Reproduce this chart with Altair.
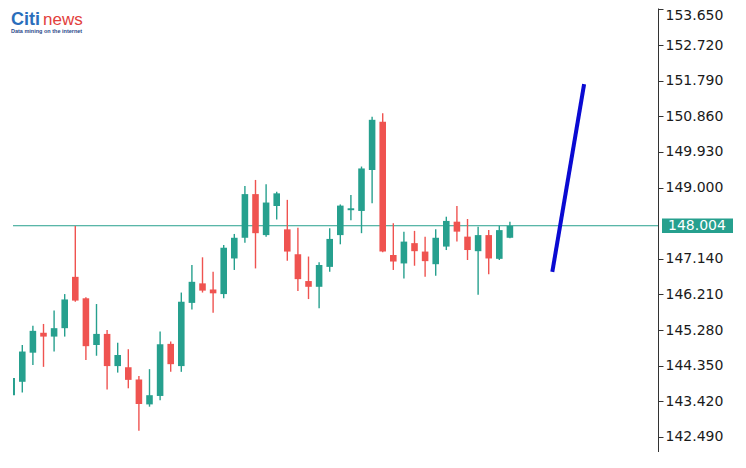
import altair as alt
import pandas as pd

# ---- data ----
idx = list(range(1, 49))
opens = [143.58, 143.93, 144.69, 145.21, 145.11, 145.33, 146.67, 146.11, 144.89, 145.18,
         144.34, 144.31, 143.99, 143.34, 143.56, 144.92, 144.34, 145.99, 146.50, 146.34,
         146.22, 147.15, 147.69, 148.83, 147.76, 148.52, 147.91, 147.26, 146.56, 146.41,
         146.93, 147.76, 148.41, 148.39, 149.46, 150.72, 147.24, 147.02, 147.55, 147.33,
         147.00, 147.46, 148.11, 147.72, 147.34, 147.76, 147.14, 147.69]
highs = [144.16, 144.89, 145.39, 145.44, 145.79, 146.22, 148.00, 146.14, 145.96, 145.28,
         144.95, 144.78, 144.08, 144.26, 145.24, 144.98, 146.26, 146.98, 147.18, 146.80,
         147.50, 147.79, 149.04, 149.20, 149.09, 148.89, 148.68, 147.95, 147.20, 147.05,
         147.94, 148.56, 148.81, 149.55, 150.85, 150.94, 148.07, 147.85, 147.87, 147.72,
         147.91, 148.24, 148.52, 148.18, 147.98, 147.89, 148.00, 148.11]
lows = [143.45, 143.65, 144.37, 144.32, 144.72, 145.11, 146.02, 144.50, 144.61, 143.73,
        144.17, 143.76, 142.65, 143.28, 143.45, 144.19, 144.19, 145.82, 146.26, 145.73,
        146.11, 146.85, 147.56, 146.89, 147.72, 148.17, 147.09, 146.30, 146.09, 145.85,
        146.80, 147.52, 148.15, 147.81, 148.59, 147.31, 146.85, 146.63, 146.96, 146.67,
        146.70, 147.37, 147.59, 147.11, 146.20, 146.74, 147.11, 147.68]
closes = [144.03, 144.72, 145.26, 145.11, 145.33, 146.08, 146.05, 144.86, 145.18, 144.34,
          144.63, 143.98, 143.35, 143.58, 144.91, 144.39, 146.02, 146.54, 146.31, 146.24,
          147.43, 147.69, 148.83, 147.81, 148.61, 148.85, 147.33, 146.61, 146.41, 146.98,
          147.66, 148.53, 148.46, 149.50, 150.77, 147.33, 147.07, 147.59, 147.34, 147.08,
          147.69, 148.13, 147.85, 147.37, 147.76, 147.15, 147.89, 148.00]

current_price = [148.004]
current_label = ["148.004"]
axis_ticks = [153.65, 152.72, 151.79, 150.86, 149.93, 149.00,
              147.14, 146.21, 145.28, 144.35, 143.42, 142.49]
proj_x = [52, 55]
proj_y = [146.80, 151.70]

UP = "#26a08e"
DOWN = "#ef5350"
BLUE = "#0a0ad2"

df = pd.DataFrame({"i": idx, "open": opens, "high": highs, "low": lows, "close": closes})
dfp = pd.DataFrame({"p": current_price, "label": current_label})
dfl = pd.DataFrame({"x": proj_x, "y": proj_y})

x_scale = alt.Scale(domain=[1.123, 61.97], zero=False, nice=False)
y_scale = alt.Scale(domain=[142.097, 153.689], zero=False, nice=False)

y_axis = alt.Axis(
    orient="right", values=axis_ticks, format=".3f", title=None, grid=False,
    labelFont="DejaVu Sans", labelFontSize=14, labelColor="#1a1a1a",
    labelPadding=2, tickSize=5, tickColor="#333333", domainColor="#333333",
    labelOffset={"condition": {"test": "datum.value > 153", "value": 6}, "value": 0},
)

color = alt.Color("dir:N", scale=alt.Scale(domain=["up", "down"], range=[UP, DOWN]), legend=None)

base = alt.Chart(df).transform_calculate(
    dir="datum.close >= datum.open ? 'up' : 'down'",
    x0="datum.i - 0.31",
    x1="datum.i + 0.31",
    b0="min(datum.open, datum.close)",
    b1="max(datum.open, datum.close)",
)

wicks = base.mark_rule(strokeWidth=1.4, clip=True).encode(
    x=alt.X("i:Q", scale=x_scale, axis=None),
    y=alt.Y("low:Q", scale=y_scale, axis=y_axis),
    y2="high:Q",
    color=color,
)

bodies = base.mark_rect(clip=True).encode(
    x=alt.X("x0:Q", scale=x_scale, axis=None),
    x2="x1:Q",
    y=alt.Y("b0:Q", scale=y_scale, axis=y_axis),
    y2="b1:Q",
    color=color,
)

hline = alt.Chart(dfp).mark_rule(color=UP, strokeWidth=1).encode(
    y=alt.Y("p:Q", scale=y_scale, axis=y_axis)
)

box = alt.Chart(dfp).transform_calculate(
    lo="datum.p - 0.187", hi="datum.p + 0.187"
).mark_rect(color=UP).encode(
    x=alt.value(649), x2=alt.value(720),
    y=alt.Y("lo:Q", scale=y_scale, axis=y_axis), y2="hi:Q",
)

box_text = alt.Chart(dfp).mark_text(
    align="left", baseline="middle", color="white", fontSize=14, font="DejaVu Sans"
).encode(
    x=alt.value(655),
    y=alt.Y("p:Q", scale=y_scale, axis=y_axis),
    text="label:N",
)

proj = alt.Chart(dfl).mark_line(color=BLUE, strokeWidth=4).encode(
    x=alt.X("x:Q", scale=x_scale, axis=None),
    y=alt.Y("y:Q", scale=y_scale, axis=y_axis),
)

logo_citi = alt.Chart(pd.DataFrame({"t": ["Citi"]})).mark_text(
    align="left", baseline="alphabetic", font="Liberation Sans", fontWeight="bold",
    fontSize=18, color="#2a6ebb"
).encode(x=alt.value(-2), y=alt.value(17), text="t:N")
logo_news = alt.Chart(pd.DataFrame({"t": ["news"]})).mark_text(
    align="left", baseline="alphabetic", font="Liberation Sans",
    fontSize=17, color="#e2403c"
).encode(x=alt.value(30), y=alt.value(16.5), text="t:N")
logo_sub = alt.Chart(pd.DataFrame({"t": ["Data mining on the internet"]})).mark_text(
    align="left", baseline="middle", font="Liberation Sans", fontWeight="bold",
    fontSize=5.5, color="#2a4a8a"
).encode(x=alt.value(-2), y=alt.value(23), text="t:N")

chart = alt.layer(
    hline, wicks, bodies, proj, box, box_text, logo_citi, logo_news, logo_sub
).properties(
    width=645, height=444,
    padding={"left": 5, "top": 0, "right": 80, "bottom": 0},
    autosize=alt.AutoSizeParams(type="none"),
).configure_view(stroke=None)

chart.save("out.html", embed_options={"renderer": "svg", "actions": False})
